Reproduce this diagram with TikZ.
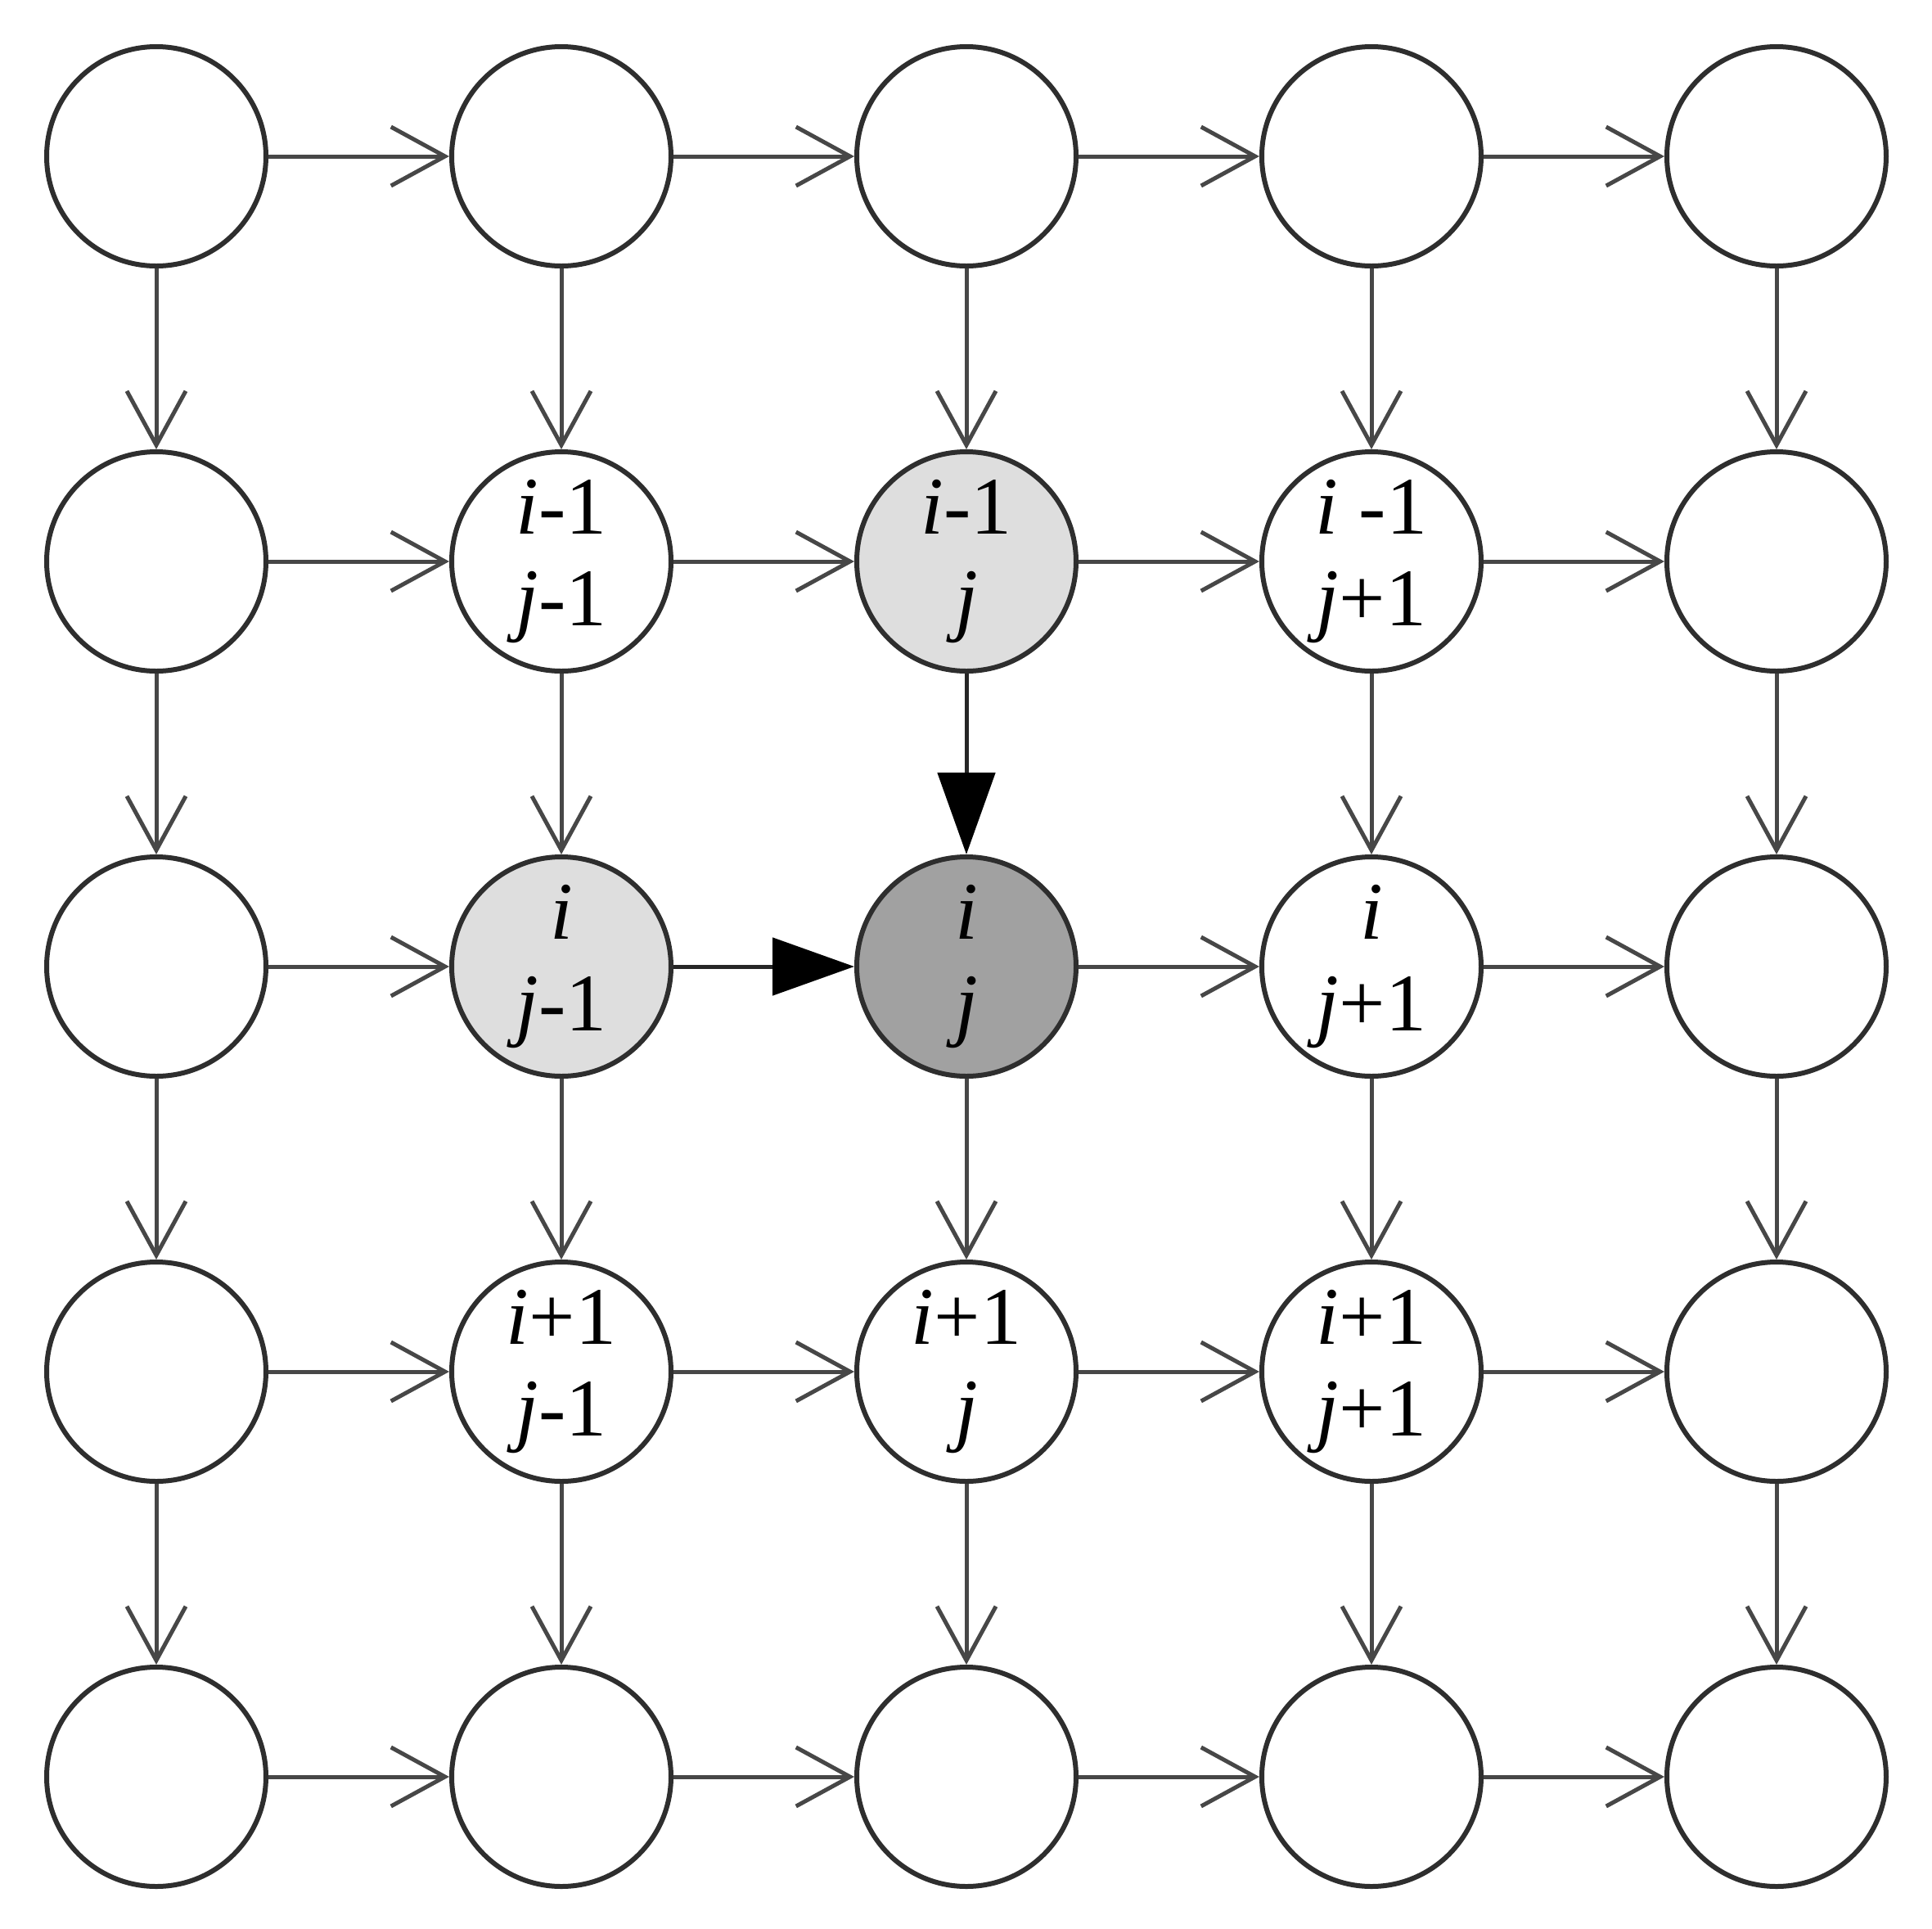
\documentclass[tikz,border=0pt]{standalone}
\usepackage{fontspec}
\setmainfont{Liberation Serif}
\usetikzlibrary{arrows.meta}
\begin{document}
\begin{tikzpicture}[x=1pt,y=1pt,
 cell/.style={circle, draw=black!82, line width=0.6pt, minimum size=26.8pt, inner sep=0pt, align=center, font=\fontsize{10}{11.2}\selectfont, fill=white},
 lite/.style={fill=black!13},
 dark/.style={fill=black!37},
 conn/.style={draw=black!72, line width=0.5pt, -{Straight Barb[length=6.6pt,width=7.2pt]}},
 mainarrow/.style={draw=black!85, line width=0.5pt, -{Triangle[length=10pt,width=7pt,fill=black,color=black]}}]
\useasboundingbox (0,0) rectangle (236.1,-235.7);
% row 0
\node[cell] (n00) at (19.1,-19.1) {};
\node[cell] (n01) at (68.6,-19.1) {};
\node[cell] (n02) at (118.1,-19.1) {};
\node[cell] (n03) at (167.6,-19.1) {};
\node[cell] (n04) at (217.1,-19.1) {};
% row 1
\node[cell] (n10) at (19.1,-68.6) {};
\node[cell] (n11) at (68.6,-68.6) {\textit{i}-1\\\textit{j}-1};
\node[cell,lite] (n12) at (118.1,-68.6) {\textit{i}-1\\\textit{j}};
\node[cell] (n13) at (167.6,-68.6) {\textit{i} -1\\\textit{j}+1};
\node[cell] (n14) at (217.1,-68.6) {};
% row 2
\node[cell] (n20) at (19.1,-118.1) {};
\node[cell,lite] (n21) at (68.6,-118.1) {\textit{i}\\\textit{j}-1};
\node[cell,dark] (n22) at (118.1,-118.1) {\textit{i}\\\textit{j}};
\node[cell] (n23) at (167.6,-118.1) {\textit{i}\\\textit{j}+1};
\node[cell] (n24) at (217.1,-118.1) {};
% row 3
\node[cell] (n30) at (19.1,-167.6) {};
\node[cell] (n31) at (68.6,-167.6) {\textit{i}+1\\\textit{j}-1};
\node[cell] (n32) at (118.1,-167.6) {\textit{i}+1\\\textit{j}};
\node[cell] (n33) at (167.6,-167.6) {\textit{i}+1\\\textit{j}+1};
\node[cell] (n34) at (217.1,-167.6) {};
% row 4
\node[cell] (n40) at (19.1,-217.1) {};
\node[cell] (n41) at (68.6,-217.1) {};
\node[cell] (n42) at (118.1,-217.1) {};
\node[cell] (n43) at (167.6,-217.1) {};
\node[cell] (n44) at (217.1,-217.1) {};
% horizontal connectors
\foreach \r in {0,...,4}{
  \foreach \c [evaluate=\c as \d using int(\c+1)] in {0,...,3}{
    \ifnum\r=2 \ifnum\c=1 \else \draw[conn] (n\r\c) -- (n\r\d); \fi
    \else \draw[conn] (n\r\c) -- (n\r\d); \fi
  }
}
% vertical connectors
\foreach \c in {0,...,4}{
  \foreach \r [evaluate=\r as \s using int(\r+1)] in {0,...,3}{
    \ifnum\c=2 \ifnum\r=1 \else \draw[conn] (n\r\c) -- (n\s\c); \fi
    \else \draw[conn] (n\r\c) -- (n\s\c); \fi
  }
}
\draw[mainarrow] (n21) -- (n22);
\draw[mainarrow] (n12) -- (n22);
\end{tikzpicture}
\end{document}
